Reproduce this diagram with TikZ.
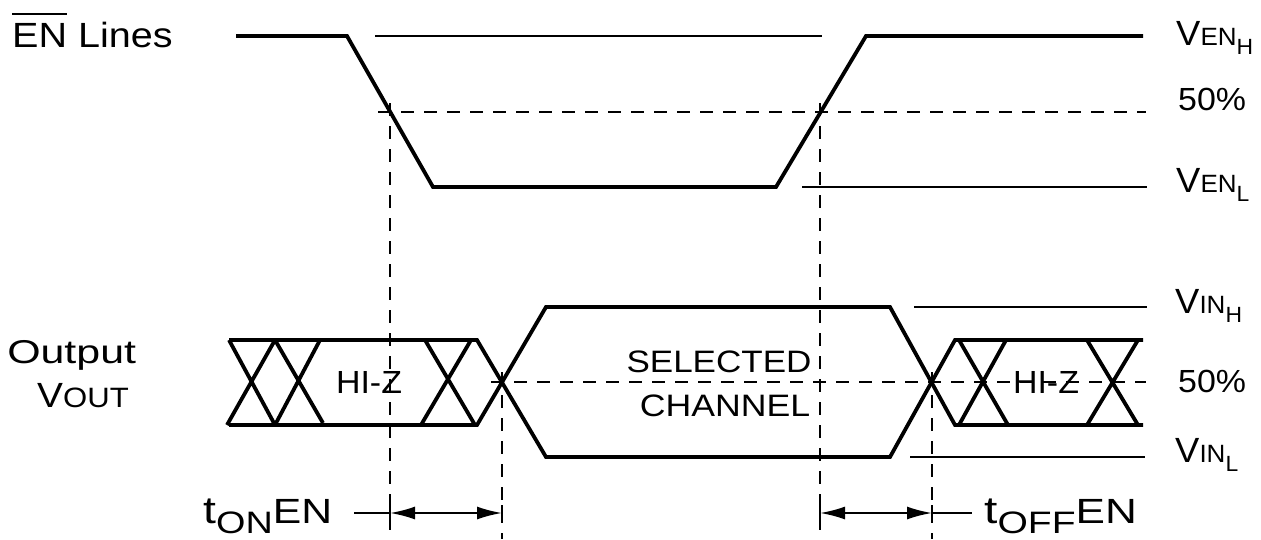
\documentclass[tikz,border=0pt]{standalone}
\usepackage{fontspec}
\setmainfont{Liberation Sans}
\usetikzlibrary{arrows.meta}
\newcommand\fsz[1]{\fontsize{#1pt}{#1pt}\selectfont}
\newcommand\ovl[1]{\vbox{\hrule height 2.2pt\kern 7.5pt\hbox{#1}}}
\begin{document}
\begin{tikzpicture}[x=1pt,y=-1pt,
  wave/.style={line width=3.8pt},
  thinl/.style={line width=2pt},
  dsh/.style={line width=2pt, dash pattern=on 13pt off 10pt},
  lbl/.style={inner sep=0pt, font=\fsz{35}},
  dimarrow/.style={line width=2pt, {Latex[length=25pt,width=13pt]}-{Latex[length=25pt,width=13pt]}},
]
\useasboundingbox (0,0) rectangle (1261,539);

% labels
\node[lbl, anchor=base west, xscale=1.13] (enlbl) at (12,47) {\ovl{EN} Lines};
\node[lbl, anchor=base west, xscale=1.04] (venh) at (1176,45) {V{\fsz{25}EN}\raisebox{-9pt}{\fsz{22}H}};
\node[lbl, anchor=base west, xscale=1.06] (p50a) at (1178,110) {\fsz{32}50\%};
\node[lbl, anchor=base west, xscale=1.04] (venl) at (1176,192) {V{\fsz{25}EN}\raisebox{-9pt}{\fsz{22}L}};
\node[lbl, anchor=base west, xscale=1.04] (vinh) at (1175,313) {V{\fsz{25}IN}\raisebox{-9pt}{\fsz{22}H}};
\node[lbl, anchor=base west, xscale=1.06] (p50b) at (1178,392) {\fsz{32}50\%};
\node[lbl, anchor=base west, xscale=1.04] (vinl) at (1175,462) {V{\fsz{25}IN}\raisebox{-9pt}{\fsz{22}L}};
\node[lbl, anchor=base west, xscale=1.3] (outlbl) at (7,363) {\fsz{33}Output};
\node[lbl, anchor=base west, xscale=1.11] (voutlbl) at (37,407) {V{\fsz{28}OUT}};
\node[lbl, anchor=base west, xscale=1.22] (tonlbl) at (203,523) {\fsz{38}t\raisebox{-10pt}{\fsz{31}ON}{\fsz{35}EN}};
\node[lbl, anchor=base west, xscale=1.26] (tofflbl) at (984,523) {\fsz{38}t\raisebox{-10pt}{\fsz{31}OFF}{\fsz{35}EN}};
\node[lbl, xscale=1.06] (hizl) at (369,382) {\fsz{32}HI-Z};
\node[lbl, xscale=1.06] (hizr) at (1046,382) {\fsz{32}HI-Z};
\node[lbl, xscale=1.13] (sel) at (719,362) {\fsz{31}SELECTED};
\node[lbl, xscale=1.15] (chan) at (725,406) {\fsz{31}CHANNEL};

% EN waveform
\draw[wave] (236,36) -- (347,36) -- (433,187) -- (776,187) -- (866,36) -- (1143,36);
\draw[thinl] (375,36) -- (822,36);
\draw[thinl] (802,187) -- (1147,187);
\draw[dsh] (378,112) -- (1146,112);

% output waveform
\draw[wave] (229,340) -- (477,340) -- (546,457) -- (890,457) -- (955,340) -- (1143,340);
\draw[wave] (229,425) -- (477,425) -- (546,307) -- (890,307) -- (955,425) -- (1143,425);
\draw[wave] (229,340)--(275,425) (227,425)--(275,340) (275,340)--(323,423) (275,425)--(320,340)
  (425,340)--(475,425) (421,425)--(471,340)
  (959,340)--(1008,425) (959,425)--(1006,340) (1087,340)--(1138,425) (1087,425)--(1138,340);
\draw[thinl] (914,307) -- (1147,307);
\draw[thinl] (910,457) -- (1145,457);
\draw[dsh] (491,382) -- (1146,382);

% timing markers
\coordinate (m1t) at (390,103); \coordinate (m1b) at (390,539);
\coordinate (m2t) at (502,372); \coordinate (m2b) at (502,539);
\coordinate (m3t) at (820,103); \coordinate (m3b) at (820,539);
\coordinate (m4t) at (932,372); \coordinate (m4b) at (932,539);
\draw[dsh] (m1t) -- (m1b);
\draw[dsh] (m2t) -- (m2b);
\draw[dsh] (m3t) -- (m3b);
\draw[dsh] (m4t) -- (m4b);

\coordinate (a1) at (390,513); \coordinate (a2) at (502,513);
\coordinate (a3) at (820,513); \coordinate (a4) at (932,513);
\coordinate (ton) at (354,513); \coordinate (toff) at (972,513);
\draw[thinl] (ton) -- (a1);
\draw[dimarrow] (a1) -- (a2);
\draw[dimarrow] (a3) -- (a4);
\draw[thinl] (a4) -- (toff);
\foreach \p in {a1,a2,a3,a4} \draw[thinl] ([yshift=-8pt]\p) -- ([yshift=8pt]\p);
\end{tikzpicture}
\end{document}
